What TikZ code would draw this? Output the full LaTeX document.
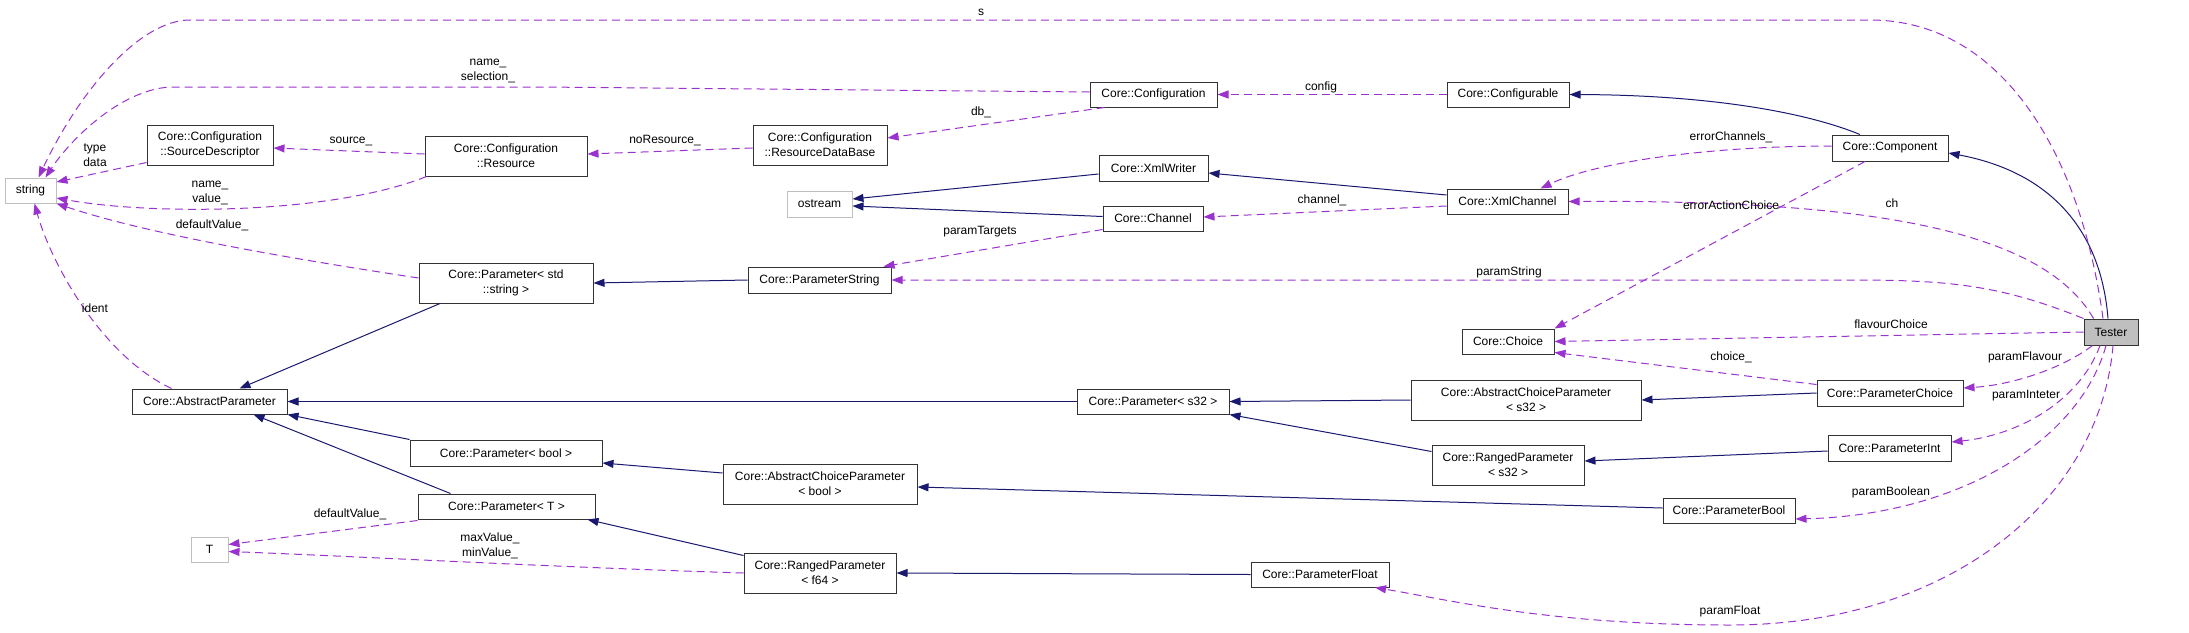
\documentclass[tikz,border=0pt]{standalone}
\usepackage{fontspec}
\setmainfont{Liberation Sans}
\usetikzlibrary{arrows.meta}
\definecolor{inhblue}{HTML}{191970}
\definecolor{usepurple}{HTML}{9A32CD}
\definecolor{extgray}{HTML}{BFBFBF}

\begin{document}
\begin{tikzpicture}[x=1pt, y=-1pt,
    font=\fontsize{12}{15}\selectfont,
    cls/.style={draw=black!80, line width=1pt, fill=white, align=center, inner sep=0pt, minimum height=25pt},
    extcls/.style={cls, draw=extgray},
    twoline/.style={minimum height=40pt},
    inhline/.style={draw=inhblue, line width=1pt, -{Triangle[length=11pt,width=8pt]}},
    useline/.style={draw=usepurple, line width=1pt, dash pattern=on 8pt off 5pt, -{Triangle[length=11pt,width=8pt]}},
    lbl/.style={inner sep=0pt, align=center}]
    \useasboundingbox (0,0) rectangle (2189,632);

    % Classes, left part
    \node[extcls, minimum width=51pt] (str) at (30.5,190.5) {string};
    \node[cls, twoline, minimum width=126pt] (sd) at (210,145) {Core::Configuration\\::SourceDescriptor};
    \node[cls, twoline, minimum width=162pt] (res) at (506,156) {Core::Configuration\\::Resource};
    \node[cls, twoline, minimum width=174pt] (pstd) at (506,283) {Core::Parameter< std\\::string >};
    \node[cls, minimum width=155pt] (absp) at (209.5,401.5) {Core::AbstractParameter};
    \node[cls, minimum width=192pt, minimum height=26pt] (pbool) at (506,453) {Core::Parameter< bool >};
    \node[cls, minimum width=177pt] (pT) at (506.5,506.5) {Core::Parameter< T >};
    \node[extcls, minimum width=37pt] (T) at (209.5,549.5) {T};

    % Classes, middle part
    \node[cls, twoline, minimum width=134pt] (rdb) at (820,145) {Core::Configuration\\::ResourceDataBase};
    \node[extcls, minimum width=65pt, minimum height=26pt] (ostr) at (819.5,204) {ostream};
    \node[cls, minimum width=143pt, minimum height=26pt] (pstr) at (819.5,280) {Core::ParameterString};
    \node[cls, twoline, minimum width=194pt] (acb) at (820,484) {Core::AbstractChoiceParameter\\< bool >};
    \node[cls, twoline, minimum width=152pt] (rf64) at (820,573) {Core::RangedParameter\\< f64 >};
    \node[cls, minimum width=127pt] (conf) at (1153.5,94.5) {Core::Configuration};
    \node[cls, minimum width=109pt, minimum height=26pt] (xw) at (1153.5,168) {Core::XmlWriter};
    \node[cls, minimum width=100pt] (ch) at (1153,218.5) {Core::Channel};
    \node[cls, minimum width=152pt] (ps32) at (1153,401.5) {Core::Parameter< s32 >};
    \node[cls, minimum width=138pt] (pfl) at (1320,574.5) {Core::ParameterFloat};

    % Classes, right part
    \node[cls, minimum width=122pt] (cfg) at (1508,94.5) {Core::Configurable};
    \node[cls, minimum width=121pt] (xc) at (1507.5,201.5) {Core::XmlChannel};
    \node[cls, minimum width=92pt] (choice) at (1508,341.5) {Core::Choice};
    \node[cls, twoline, minimum width=230pt] (acs32) at (1526,400) {Core::AbstractChoiceParameter\\< s32 >};
    \node[cls, twoline, minimum width=152pt] (rs32) at (1508,465) {Core::RangedParameter\\< s32 >};
    \node[cls, minimum width=116pt, minimum height=26pt] (comp) at (1890,148) {Core::Component};
    \node[cls, minimum width=146pt, minimum height=26pt] (pch) at (1890,393) {Core::ParameterChoice};
    \node[cls, minimum width=123pt, minimum height=26pt] (pint) at (1889.5,448) {Core::ParameterInt};
    \node[cls, minimum width=132pt] (pbl) at (1729,510.5) {Core::ParameterBool};
    \node[cls, fill=extgray, minimum width=54pt, minimum height=26pt] (tester) at (2111,332) {Tester};

    % Inheritance
    \foreach \a/\b in {ps32.west/absp.east, pstr.west/pstd.east, acs32.west/ps32.east,
                       pch.west/acs32.east, pfl.west/rf64.east, pbool.north west/absp.south east} {
        \draw[inhline] (\a) -- (\b);
    }
    \draw[inhline] ([xshift=-66pt]pstd.south) -- ([xshift=30pt]absp.north);
    \draw[inhline] ([xshift=-56pt]pT.north) -- ([xshift=44pt]absp.south);
    \draw[inhline] ([yshift=-6pt]xw.west) -- ([yshift=5pt]ostr.east);
    \draw[inhline] ([yshift=2pt]ch.west) -- ([yshift=-2pt]ostr.east);
    \draw[inhline] ([yshift=6.5pt]xc.west) -- ([yshift=-5pt]xw.east);
    \draw[inhline] ([yshift=-7pt]rs32.north west) -- (ps32.south east);
    \draw[inhline] ([yshift=-3pt]pint.west) -- ([yshift=4pt]rs32.east);
    \draw[inhline] ([yshift=2.5pt]pbl.west) -- ([yshift=-3pt]acb.east);
    \draw[inhline] ([yshift=11pt]acb.west) -- ([yshift=-10pt]pbool.east);
    \draw[inhline] ([yshift=-3pt]rf64.north west) -- ([xshift=-8pt]pT.south east);
    \draw[inhline] ([xshift=-30pt]comp.north) .. controls (1800,110) and (1700,95) .. (cfg.east);
    \draw[inhline] ([xshift=-3pt]tester.north) .. controls (2100,220) and (2040,170) .. ([yshift=-5pt]comp.east);

    % Members
    \draw[useline] ([xshift=-8pt]tester.north) .. controls (2080,150) and (2000,20) .. (1870,20)
        -- (190,20) .. controls (140,20) and (80,90) .. ([xshift=8pt]str.north);
    \draw[useline] ([yshift=2.5pt]conf.west) -- (540,87) -- (170,87) .. controls (120,90) and (70,140) .. ([xshift=15pt]str.north);
    \draw[useline] ([yshift=3pt]sd.south west) -- ([yshift=8.5pt]str.east);
    \draw[useline] ([yshift=2pt]res.west) -- ([yshift=-3pt]sd.east);
    \draw[useline] ([xshift=2pt]res.south west) .. controls (330,215) and (150,215) .. ([yshift=-7.5pt]str.east);
    \draw[useline] ([yshift=5pt]pstd.west) .. controls (300,260) and (150,235) .. (str.south east);
    \draw[useline] ([xshift=-38pt]absp.north) .. controls (100,355) and (50,260) .. ([xshift=4pt]str.south);
    \draw[useline] ([yshift=-3pt]rdb.west) -- ([yshift=2pt]res.east);
    \draw[useline] ([xshift=15pt]conf.south west) -- ([yshift=7pt]rdb.east);
    \draw[useline] (cfg.west) -- (conf.east);
    \draw[useline] ([yshift=2pt]ch.south west) -- ([xshift=-8pt]pstr.north east);
    \draw[useline] ([yshift=-4.5pt]xc.west) -- ([yshift=1.5pt]ch.east);
    \draw[useline] ([yshift=2pt]comp.west) .. controls (1720,146) and (1600,160) .. ([xshift=33pt]xc.north);
    \draw[useline] ([xshift=10pt]tester.north west) .. controls (2040,225) and (1850,200) .. (xc.east);
    \draw[useline] ([xshift=-25pt]comp.south) -- (choice.north east);
    \draw[useline] (tester.north west) .. controls (2000,285) and (1950,280) .. (1850,280) -- (pstr.east);
    \draw[useline] (tester.west) -- (choice.east);
    \draw[useline] ([yshift=-5pt]pch.north west) -- ([yshift=2pt]choice.south east);
    \draw[useline] ([xshift=9pt]tester.south west) .. controls (2060,370) and (2010,385) .. ([yshift=5pt]pch.east);
    \draw[useline] ([xshift=-11pt]tester.south) .. controls (2080,400) and (2020,435) .. ([yshift=6pt]pint.east);
    \draw[useline] ([xshift=-5pt]tester.south) .. controls (2080,440) and (1960,515) .. ([yshift=-8.5pt]pbl.east);
    \draw[useline] ([xshift=2pt]tester.south) .. controls (2100,500) and (1950,625) .. (1730,625)
        .. controls (1550,625) and (1450,600) .. ([xshift=55pt]pfl.south);
    \draw[useline] ([yshift=-1pt]pT.south west) -- ([yshift=5pt]T.east);
    \draw[useline] (rf64.west) .. controls (550,567) and (350,556) .. ([yshift=-2pt]T.east);

    % Member names
    \node[lbl] (l-s) at (981,12) {s};
    \node[lbl] (l-namesel) at (488,71) {name\_\\selection\_};
    \node[lbl] (l-typedata) at (95,155.5) {type\\data};
    \node[lbl] (l-source) at (351,141) {source\_};
    \node[lbl] (l-namevalue) at (210,192.5) {name\_\\value\_};
    \node[lbl] (l-defval) at (212,225) {defaultValue\_};
    \node[lbl] (l-ident) at (95,308) {ident};
    \node[lbl] (l-nores) at (665,141) {noResource\_};
    \node[lbl] (l-db) at (981,112) {db\_};
    \node[lbl] (l-config) at (1321,87) {config};
    \node[lbl] (l-targets) at (980,232) {paramTargets};
    \node[lbl] (l-channel) at (1322,200) {channel\_};
    \node[lbl] (l-errch) at (1731,137) {errorChannels\_};
    \node[lbl] (l-erract) at (1731,205) {errorActionChoice};
    \node[lbl] (l-ch) at (1892,203) {ch};
    \node[lbl] (l-pstring) at (1509,272) {paramString};
    \node[lbl] (l-flavour) at (1891,324) {flavourChoice};
    \node[lbl] (l-choice) at (1731,357) {choice\_};
    \node[lbl] (l-pflavour) at (2025,357) {paramFlavour};
    \node[lbl] (l-pint) at (2026,396) {paramInteter};
    \node[lbl] (l-pbool) at (1891,492) {paramBoolean};
    \node[lbl] (l-pfloat) at (1730,611) {paramFloat};
    \node[lbl] (l-defvalT) at (350,514) {defaultValue\_};
    \node[lbl] (l-maxmin) at (490,546) {maxValue\_\\minValue\_};
\end{tikzpicture}
\end{document}
